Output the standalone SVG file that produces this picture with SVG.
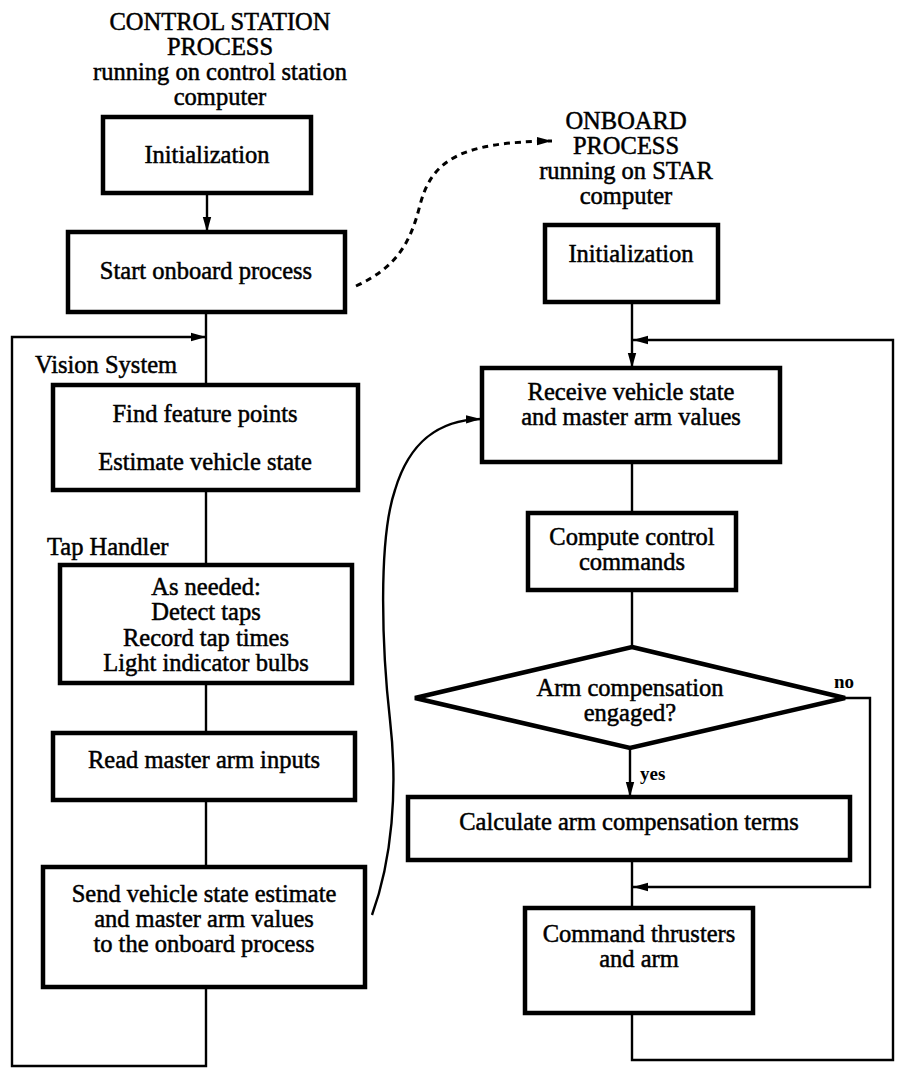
<svg xmlns="http://www.w3.org/2000/svg" width="899" height="1071" viewBox="0 0 899 1071">
<defs>
<style>
.t{font-family:"Liberation Serif","Times New Roman",serif;font-size:24.5px;fill:#000;text-anchor:middle;stroke:#000;stroke-width:0.5px}
.l{text-anchor:start}
.s{font-family:"Liberation Serif","Times New Roman",serif;font-size:19px;font-weight:bold;fill:#000}
.box{fill:#fff;stroke:#000;stroke-width:4.5}
.ln{fill:none;stroke:#000;stroke-width:2.4}
.dash{fill:none;stroke:#000;stroke-width:3;stroke-dasharray:6 5}
</style>
<marker id="ah" markerUnits="userSpaceOnUse" markerWidth="16" markerHeight="10" refX="15" refY="5" orient="auto">
<path d="M0,0.8 L15,5 L0,9.2 z" fill="#000"/>
</marker>
</defs>

<g id="connectors">
<line class="ln" x1="207" y1="193" x2="207" y2="232" marker-end="url(#ah)"/>
<line class="ln" x1="206" y1="312" x2="206" y2="385"/>
<path class="ln" d="M206,987 V1066 H12 V337 H206" marker-end="url(#ah)"/>
<line class="ln" x1="206" y1="490" x2="206" y2="565"/>
<line class="ln" x1="206" y1="683" x2="206" y2="733"/>
<line class="ln" x1="206" y1="800" x2="206" y2="867"/>
<path class="dash" d="M356,286 C395,268 410,245 420,205 C432,160 460,142 552,141" marker-end="url(#ah)"/>
<path class="ln" d="M372,915 C392,860 398,790 390,720 C382,650 378,540 395,490 C410,440 440,420 481,419" marker-end="url(#ah)"/>
<line class="ln" x1="632" y1="302" x2="632" y2="368" marker-end="url(#ah)"/>
<path class="ln" d="M632,1013 V1060 H893 V340 H633" marker-end="url(#ah)"/>
<line class="ln" x1="632" y1="462" x2="632" y2="513"/>
<line class="ln" x1="632" y1="590" x2="632" y2="647"/>
<path class="ln" d="M845,698 H870 V887 H633" marker-end="url(#ah)"/>
<line class="ln" x1="630" y1="748" x2="630" y2="797" marker-end="url(#ah)"/>
<line class="ln" x1="632" y1="860" x2="632" y2="908"/>
<text class="s" x="834" y="688">no</text>
<text class="s" x="640" y="780">yes</text>
</g>

<g id="cs-header">
<text class="t" x="220" y="30">CONTROL STATION</text>
<text class="t" x="220" y="55">PROCESS</text>
<text class="t" x="220" y="80">running on control station</text>
<text class="t" x="220" y="105">computer</text>
</g>

<g id="cs-init">
<rect class="box" x="103" y="117" width="208" height="76"/>
<text class="t" x="207" y="163">Initialization</text>
</g>

<g id="cs-start">
<rect class="box" x="68" y="232" width="277" height="80"/>
<text class="t" x="206" y="279">Start onboard process</text>
</g>

<g id="vision-label">
<text class="t l" x="35" y="373">Vision System</text>
</g>

<g id="cs-vision">
<rect class="box" x="53" y="385" width="305" height="105"/>
<text class="t" x="205" y="422">Find feature points</text>
<text class="t" x="205" y="470">Estimate vehicle state</text>
</g>

<g id="tap-label">
<text class="t l" x="47" y="555">Tap Handler</text>
</g>

<g id="cs-tap">
<rect class="box" x="60" y="565" width="292" height="118"/>
<text class="t" x="206" y="595">As needed:</text>
<text class="t" x="206" y="620">Detect taps</text>
<text class="t" x="206" y="646">Record tap times</text>
<text class="t" x="206" y="671">Light indicator bulbs</text>
</g>

<g id="cs-read">
<rect class="box" x="53" y="733" width="302" height="67"/>
<text class="t" x="204" y="768">Read master arm inputs</text>
</g>

<g id="cs-send">
<rect class="box" x="43" y="867" width="322" height="120"/>
<text class="t" x="204" y="902">Send vehicle state estimate</text>
<text class="t" x="204" y="927">and master arm values</text>
<text class="t" x="204" y="952">to the onboard process</text>
</g>

<g id="ob-header">
<text class="t" x="626" y="129">ONBOARD</text>
<text class="t" x="626" y="154">PROCESS</text>
<text class="t" x="626" y="179">running on STAR</text>
<text class="t" x="626" y="204">computer</text>
</g>

<g id="ob-init">
<rect class="box" x="545" y="225" width="173" height="77"/>
<text class="t" x="631" y="262">Initialization</text>
</g>

<g id="ob-receive">
<rect class="box" x="482" y="368" width="298" height="94"/>
<text class="t" x="631" y="400">Receive vehicle state</text>
<text class="t" x="631" y="425">and master arm values</text>
</g>

<g id="ob-compute">
<rect class="box" x="528" y="513" width="208" height="77"/>
<text class="t" x="632" y="545">Compute control</text>
<text class="t" x="632" y="570">commands</text>
</g>

<g id="ob-decision">
<polygon class="box" stroke-width="5" points="632,647 845,698 630,748 415,698"/>
<text class="t" x="630" y="696">Arm compensation</text>
<text class="t" x="630" y="721">engaged?</text>
</g>

<g id="ob-calc">
<rect class="box" x="408" y="797" width="442" height="63"/>
<text class="t" x="629" y="830">Calculate arm compensation terms</text>
</g>

<g id="ob-command">
<rect class="box" x="525" y="908" width="228" height="105"/>
<text class="t" x="639" y="942">Command thrusters</text>
<text class="t" x="639" y="967">and arm</text>
</g>
</svg>
